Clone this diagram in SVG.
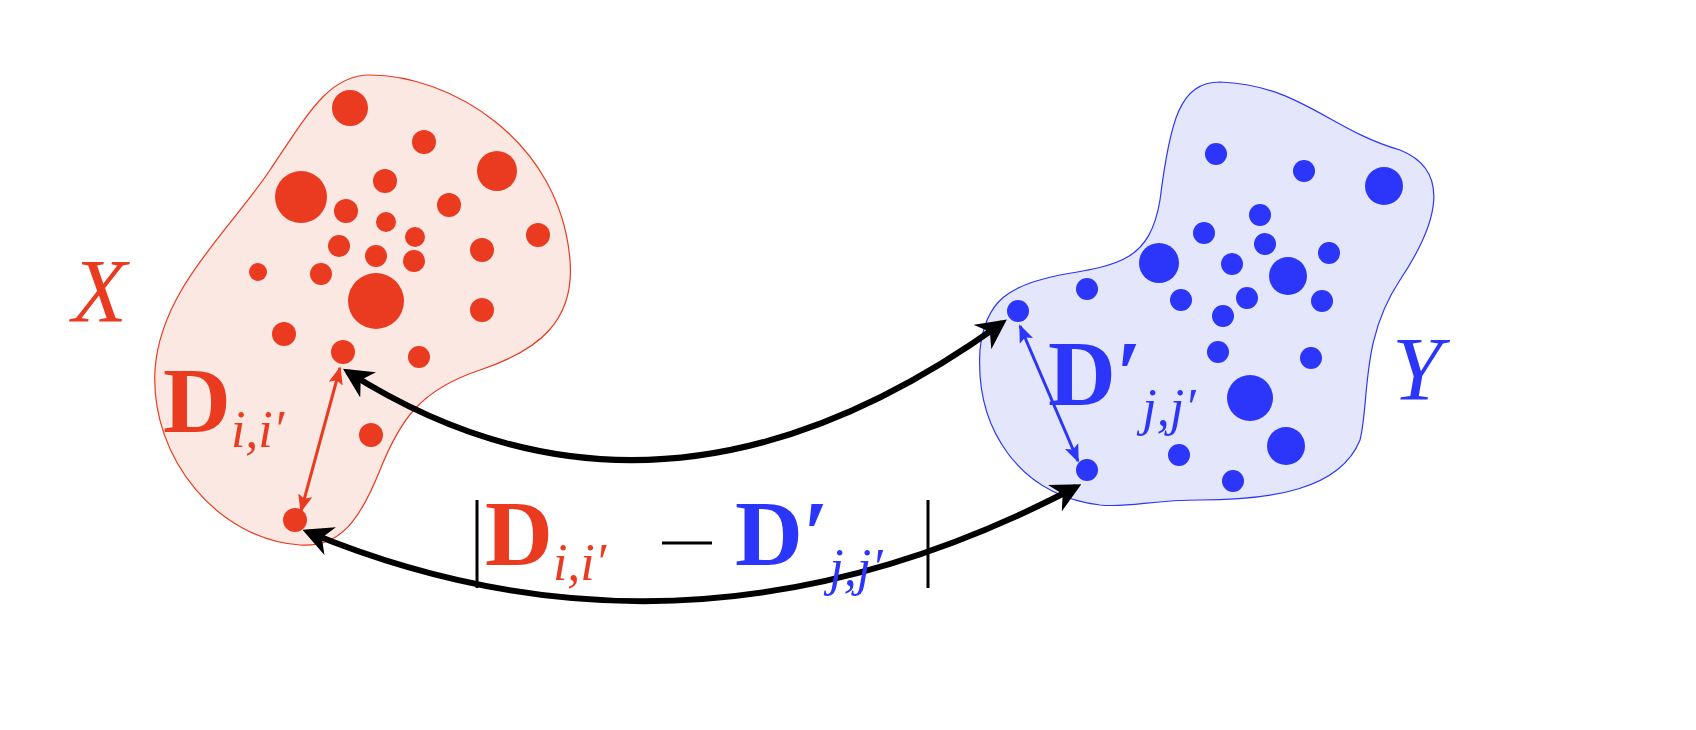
<svg xmlns="http://www.w3.org/2000/svg" width="1696" height="730" viewBox="0 0 1696 730">
<style>
.r{fill:#ea3a1f}.b{fill:#2b36fa}
.t{font-family:"Liberation Serif",serif}
.D{font-weight:bold;font-size:94px}
.s{font-style:italic;font-size:52px}
.conn{fill:none;stroke:#000;stroke-width:6}
</style>
<defs>
<marker id="ak" viewBox="0 0 10 10" refX="8" refY="5" markerWidth="5" markerHeight="5" orient="auto-start-reverse"><path d="M0,0 L10,5 L0,10 L3,5Z" fill="#000"/></marker>
<marker id="ar" viewBox="0 0 10 10" refX="9" refY="5" markerWidth="6" markerHeight="6" orient="auto-start-reverse"><path d="M0,1 L10,5 L0,9 L2,5Z" fill="#ea3a1f"/></marker>
<marker id="ab" viewBox="0 0 10 10" refX="9" refY="5" markerWidth="6" markerHeight="6" orient="auto-start-reverse"><path d="M0,1 L10,5 L0,9 L2,5Z" fill="#2b36fa"/></marker>
</defs>
<rect width="1696" height="730" fill="#fff"/>
<g id="X">
<path d="M300,545 C220,540 150,460 155,370 C160,290 230,230 270,170 C310,110 330,75 370,75 C450,75 560,140 570,260 C575,320 540,350 480,370 C420,390 400,420 380,470 C360,520 340,548 300,545Z" fill="#fbe8e3" stroke="#ea3a1f" stroke-width="1.2"/>
<g class="r">
<circle cx="350" cy="108" r="18"/><circle cx="424" cy="142" r="12"/><circle cx="497" cy="171" r="20"/><circle cx="301" cy="197" r="26"/><circle cx="385" cy="181" r="12"/><circle cx="346" cy="211" r="12"/><circle cx="449" cy="205" r="12"/><circle cx="386" cy="222" r="10"/><circle cx="538" cy="235" r="12"/><circle cx="339" cy="246" r="11"/><circle cx="376" cy="256" r="11"/><circle cx="415" cy="237" r="10"/><circle cx="482" cy="250" r="12"/><circle cx="258" cy="272" r="9"/><circle cx="321" cy="274" r="11"/><circle cx="414" cy="261" r="11"/><circle cx="376" cy="301" r="28"/><circle cx="482" cy="310" r="12"/><circle cx="284" cy="334" r="12"/><circle cx="343" cy="352" r="12"/><circle cx="419" cy="357" r="11"/><circle cx="371" cy="435" r="12"/><circle cx="295" cy="520" r="12"/>
</g>
<text class="t r" x="72" y="322" font-size="90" font-style="italic">X</text>
<text class="t r" x="163" y="432"><tspan class="D">D</tspan><tspan class="s" dy="15">i,i′</tspan></text>
</g>
<g id="Y">
<path d="M1100,505 C1020,495 975,430 980,350 C985,300 1010,285 1060,275 C1120,265 1150,260 1160,200 C1170,120 1180,82 1220,82 C1300,85 1330,130 1400,150 C1450,170 1440,220 1400,280 C1360,340 1370,400 1360,440 C1340,490 1270,500 1200,500 C1150,500 1130,508 1100,505Z" fill="#e4e7fb" stroke="#2b36fa" stroke-width="1.2"/>
<g class="b">
<circle cx="1216" cy="154" r="11"/><circle cx="1304" cy="171" r="11"/><circle cx="1384" cy="186" r="19"/><circle cx="1260" cy="215" r="11"/><circle cx="1204" cy="233" r="11"/><circle cx="1265" cy="244" r="11"/><circle cx="1329" cy="253" r="11"/><circle cx="1159" cy="263" r="20"/><circle cx="1232" cy="264" r="11"/><circle cx="1288" cy="276" r="19"/><circle cx="1087" cy="289" r="11"/><circle cx="1181" cy="300" r="11"/><circle cx="1247" cy="298" r="11"/><circle cx="1322" cy="301" r="11"/><circle cx="1223" cy="316" r="11"/><circle cx="1018" cy="311" r="11"/><circle cx="1218" cy="352" r="11"/><circle cx="1311" cy="358" r="11"/><circle cx="1250" cy="398" r="23"/><circle cx="1286" cy="446" r="19"/><circle cx="1179" cy="455" r="11"/><circle cx="1087" cy="470" r="11"/><circle cx="1233" cy="481" r="11"/>
</g>
<text class="t b" x="1392" y="400" font-size="90" font-style="italic">Y</text>
<text class="t b" x="1048" y="405"><tspan class="D">D′</tspan><tspan class="s" dy="20">j,j′</tspan></text>
</g>
<g id="connectors">
<path class="conn" d="M348,372 Q660,570 1002,323" marker-start="url(#ak)" marker-end="url(#ak)"/>
<path class="conn" d="M308,532 Q690,690 1076,487" marker-start="url(#ak)" marker-end="url(#ak)"/>
<line x1="340" y1="368" x2="301" y2="511" stroke="#ea3a1f" stroke-width="3" marker-start="url(#ar)" marker-end="url(#ar)"/>
<line x1="1020" y1="326" x2="1078" y2="461" stroke="#2b36fa" stroke-width="3" marker-start="url(#ab)" marker-end="url(#ab)"/>
</g>
<g id="label">
<line x1="477" y1="500" x2="477" y2="588" stroke="#000" stroke-width="3"/>
<text class="t r" x="485" y="565"><tspan class="D">D</tspan><tspan class="s" dy="15">i,i′</tspan></text>
<line x1="662" y1="543" x2="712" y2="543" stroke="#000" stroke-width="3"/>
<text class="t b" x="735" y="565"><tspan class="D">D′</tspan><tspan class="s" dy="20">j,j′</tspan></text>
<line x1="928" y1="500" x2="928" y2="588" stroke="#000" stroke-width="3"/>
</g>
</svg>
